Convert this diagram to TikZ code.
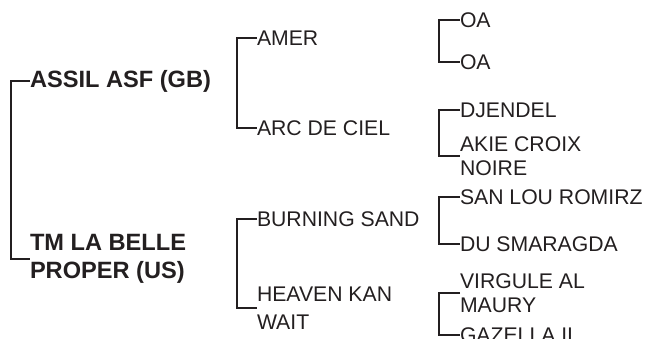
\documentclass[tikz,border=0pt]{standalone}
\usepackage{fontspec}
\setmainfont{Liberation Sans}
\definecolor{ink}{RGB}{35,31,32}
\begin{document}
\begin{tikzpicture}[x=1pt,y=-1pt,
  every node/.style={inner sep=0pt, outer sep=0pt, anchor=west, text=ink, align=left},
  lvA/.style={font=\fontsize{23.6}{27.5}\selectfont\bfseries},
  lvB/.style={font=\fontsize{21.2}{28}\selectfont},
  lvC/.style={font=\fontsize{21.2}{24.5}\selectfont},
  brk/.style={draw=ink, line width=2pt}]
\useasboundingbox (0,0) rectangle (648,339);
% level 1
\node[lvA] (assil) at (30,81) {ASSIL ASF (GB)};
\node[lvA] (tm) at (30,259) {TM LA BELLE\\PROPER (US)};
% level 2
\node[lvB] (amer) at (257,38) {AMER};
\node[lvB] (arc) at (257,128) {ARC DE CIEL};
\node[lvB] (burn) at (257,219) {BURNING SAND};
\node[lvB] (heaven) at (257,308) {HEAVEN KAN\\WAIT};
% level 3
\node[lvC] (oa1) at (460,20) {OA};
\node[lvC] (oa2) at (460,62) {OA};
\node[lvC] (djen) at (460,110) {DJENDEL};
\node[lvC] (akie) at (460,156) {AKIE CROIX\\NOIRE};
\node[lvC] (san) at (460,197) {SAN LOU ROMIRZ};
\node[lvC] (du) at (460,244) {DU SMARAGDA};
\node[lvC] (virg) at (460,293) {VIRGULE AL\\MAURY};
\node[lvC] (gaz) at (460,335) {GAZELLA II};
% brackets
\draw[brk] (assil.west) -- ++(-19,0) |- (tm.west);
\draw[brk] (amer.west) -- ++(-20,0) |- (arc.west);
\draw[brk] (burn.west) -- ++(-20,0) |- (heaven.west);
\draw[brk] (oa1.west) -- ++(-21,0) |- (oa2.west);
\draw[brk] (djen.west) -- ++(-21,0) |- (akie.west);
\draw[brk] (san.west) -- ++(-21,0) |- (du.west);
\draw[brk] (virg.west) -- ++(-21,0) |- (gaz.west);
\end{tikzpicture}
\end{document}
